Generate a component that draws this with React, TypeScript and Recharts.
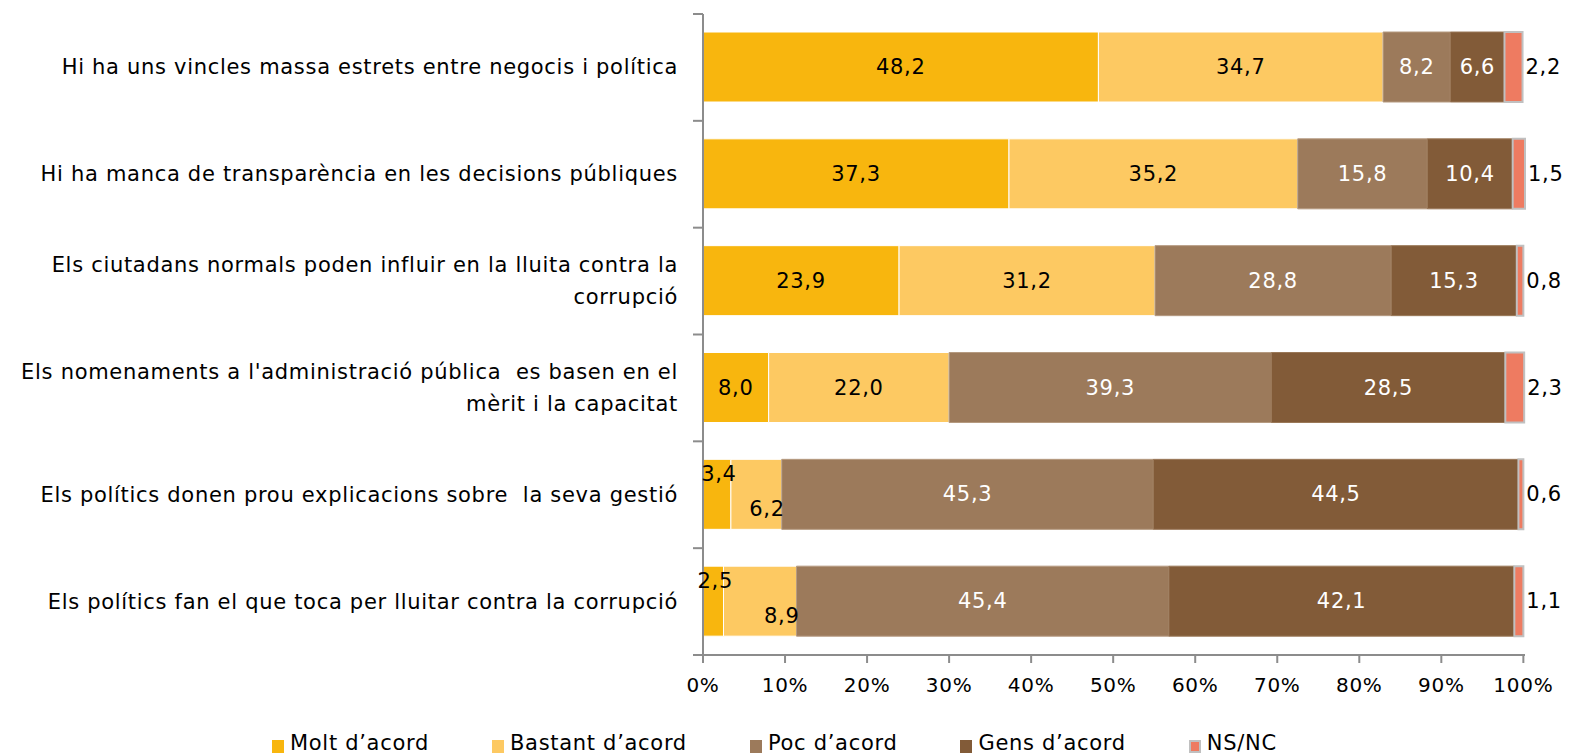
import { BarChart, Bar, XAxis, YAxis, LabelList } from 'recharts'

// one entry per row, "\n" marks where the original label wraps
const categories = [
  'Hi ha uns vincles massa estrets entre negocis i política',
  'Hi ha manca de transparència en les decisions públiques',
  'Els ciutadans normals poden influir en la lluita contra la\ncorrupció',
  "Els nomenaments a l'administració pública  es basen en el\nmèrit i la capacitat",
  'Els polítics donen prou explicacions sobre  la seva gestió',
  'Els polítics fan el que toca per lluitar contra la corrupció',
]

const molt = [48.2, 37.3, 23.9, 8.0, 3.4, 2.5]
const bastant = [34.7, 35.2, 31.2, 22.0, 6.2, 8.9]
const poc = [8.2, 15.8, 28.8, 39.3, 45.3, 45.4]
const gens = [6.6, 10.4, 15.3, 28.5, 44.5, 42.1]
const nsnc = [2.2, 1.5, 0.8, 2.3, 0.6, 1.1]

const xTicks = [0, 10, 20, 30, 40, 50, 60, 70, 80, 90, 100]

const SERIES = [
  { key: 'molt', name: 'Molt d’acord', color: '#F8B60E', stroke: '#FFFFFF', text: '#000000' },
  { key: 'bastant', name: 'Bastant d’acord', color: '#FDC962', stroke: '#FFFFFF', text: '#000000' },
  { key: 'poc', name: 'Poc d’acord', color: '#9C7A5B', stroke: '#B59A80', text: '#FFFFFF' },
  { key: 'gens', name: 'Gens d’acord', color: '#825B38', stroke: '#9A7858', text: '#FFFFFF' },
  { key: 'nsnc', name: 'NS/NC', color: '#EE7B61', stroke: '#C0C0C0', text: '#000000' },
]

const FONT = '"DejaVu Sans", sans-serif'
const FS = 21
const LS = 0.7
const W = 1573
const H = 755
const MARGIN = { top: 14, right: 48, left: 0, bottom: 55 }
const X_AXIS_H = 45
const AXIS = '#8C8C8C'

const data = categories.map((name, i) => ({
  name,
  molt: molt[i],
  bastant: bastant[i],
  poc: poc[i],
  gens: gens[i],
  nsnc: nsnc[i],
}))

const band = (H - MARGIN.top - MARGIN.bottom - X_AXIS_H) / categories.length

const fmt = (v: number) => v.toFixed(1).replace('.', ',')

function makeLabel(key: string, color: string) {
  return (props: any) => {
    const { x, y, width, height, value, index } = props
    if (value == null) return null
    let cx = Number(x) + Number(width) / 2
    let cy = Number(y) + Number(height) / 2
    let anchor: 'middle' | 'start' | 'end' = 'middle'
    // Excel nudges labels of tiny segments out of each other's way
    if (key === 'molt' && value < 5) {
      cy -= 20
      cx += 2
    }
    if (key === 'bastant' && molt[index] < 5) {
      anchor = 'end'
      cx = Number(x) + Number(width) + 3
      cy += 15
    }
    if (key === 'nsnc') {
      anchor = 'start'
      cx = Number(x) + Number(width) + 3
    }
    return (
      <text
        x={cx}
        y={cy}
        textAnchor={anchor}
        dominantBaseline="central"
        fill={color}
        fontSize={FS}
        fontFamily={FONT}
        letterSpacing={LS}
      >
        {fmt(value)}
      </text>
    )
  }
}

function CategoryTick(props: any) {
  const { x, y, payload, index } = props
  const lines = String(payload.value).split('\n')
  const lh = 32
  const top = y - ((lines.length - 1) * lh) / 2
  const axisX = x + 25
  return (
    <g>
      <line x1={axisX - 10} x2={axisX} y1={y - band / 2} y2={y - band / 2} stroke={AXIS} strokeWidth={2} />
      {index === categories.length - 1 && (
        <line x1={axisX - 10} x2={axisX} y1={y + band / 2} y2={y + band / 2} stroke={AXIS} strokeWidth={2} />
      )}
      <text
        x={x}
        y={top}
        textAnchor="end"
        dominantBaseline="central"
        fill="#000"
        fontSize={FS}
        fontFamily={FONT}
        letterSpacing={LS}
        style={{ whiteSpace: 'pre' }}
      >
        {lines.map((l, i) => (
          <tspan key={i} x={x} y={top + i * lh}>
            {l}
          </tspan>
        ))}
      </text>
    </g>
  )
}

function LegendRow() {
  return (
    <div
      style={{
        position: 'absolute',
        left: 272,
        top: 731,
        display: 'flex',
        gap: 63,
        fontFamily: FONT,
        fontSize: FS,
        letterSpacing: LS,
        color: '#000',
      }}
    >
      {SERIES.map((s) => (
        <div key={s.key} style={{ display: 'flex', alignItems: 'center', gap: 6 }}>
          <span
            style={{
              width: 12,
              height: 13,
              marginTop: 6,
              background: s.color,
              boxSizing: 'border-box',
              border: s.key === 'nsnc' ? '2px solid #C0C0C0' : 'none',
            }}
          />
          <span>{s.name}</span>
        </div>
      ))}
    </div>
  )
}

export default function App() {
  return (
    <div style={{ position: 'absolute', left: 0, top: 0, width: W, height: H, background: '#fff' }}>
      <BarChart width={W} height={H} data={data} layout="vertical" margin={MARGIN} barSize={70}>
        <XAxis
          type="number"
          domain={[0, 100]}
          ticks={xTicks}
          tickFormatter={(v) => `${v}%`}
          height={X_AXIS_H}
          tickSize={8}
          tickMargin={15}
          axisLine={{ stroke: AXIS, strokeWidth: 2 }}
          tickLine={{ stroke: AXIS, strokeWidth: 2 }}
          tick={{ fill: '#000', fontSize: FS - 1, fontFamily: FONT, letterSpacing: LS }}
          interval={0}
        />
        <YAxis
          type="category"
          dataKey="name"
          width={703}
          tickSize={10}
          tickMargin={15}
          tickLine={false}
          axisLine={{ stroke: AXIS, strokeWidth: 2 }}
          tick={<CategoryTick />}
          interval={0}
        />
        {SERIES.map((s) => (
          <Bar
            key={s.key}
            dataKey={s.key}
            name={s.name}
            stackId="a"
            fill={s.color}
            stroke={s.stroke}
            strokeWidth={s.key === 'nsnc' ? 2 : 1}
            isAnimationActive={false}
          >
            <LabelList dataKey={s.key} content={makeLabel(s.key, s.text)} />
          </Bar>
        ))}
      </BarChart>
      <LegendRow />
    </div>
  )
}
